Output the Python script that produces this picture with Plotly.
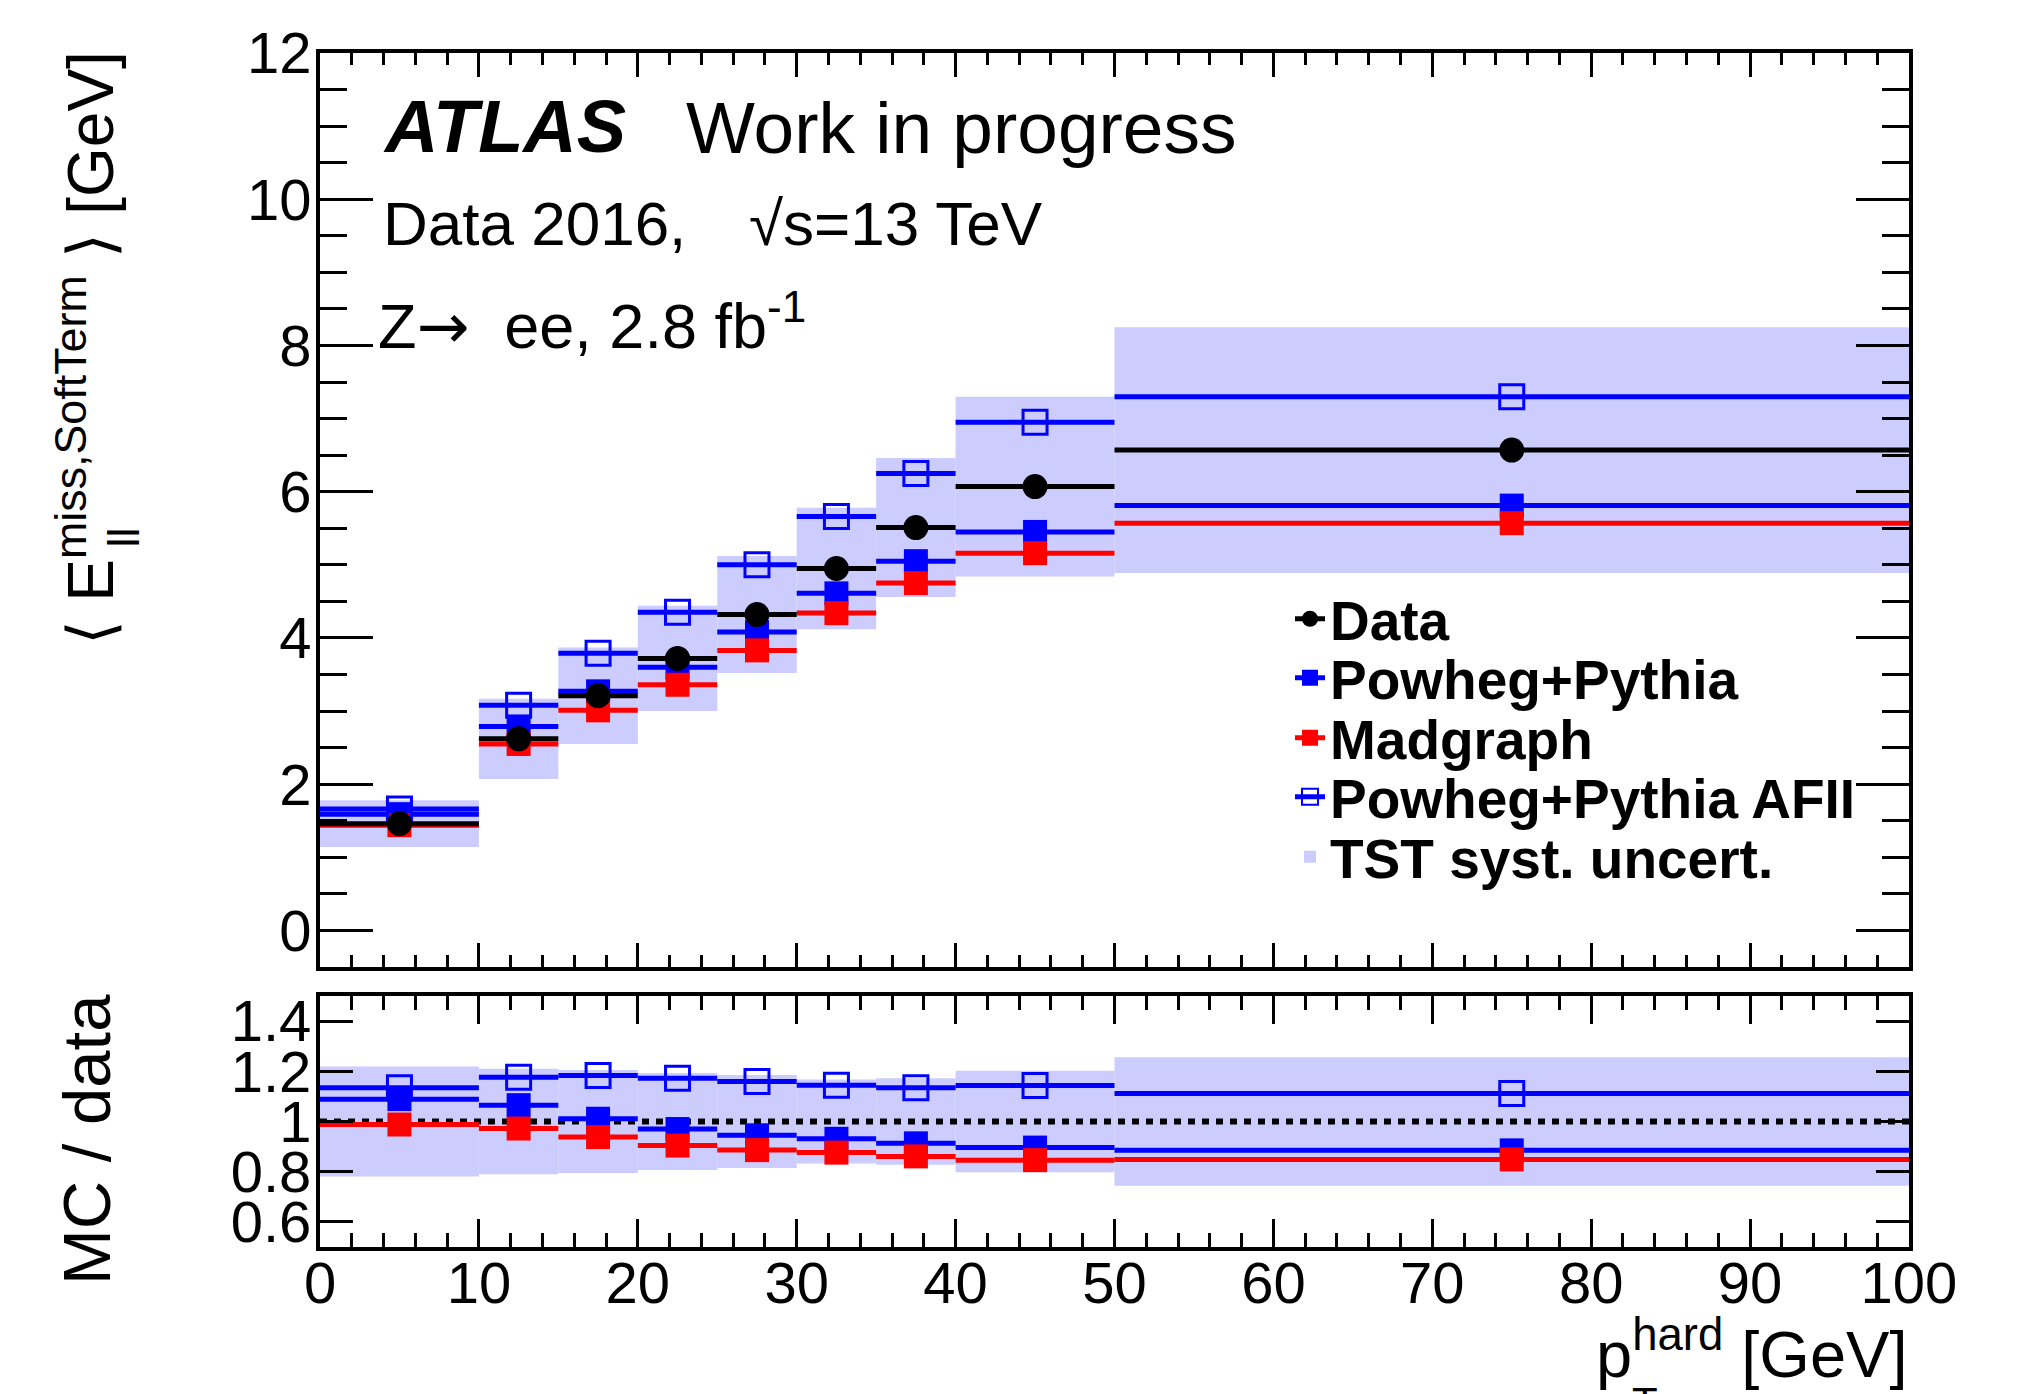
import plotly.graph_objects as go

# ---------------- data ----------------
bin_edges = [0, 10, 15, 20, 25, 30, 35, 40, 50, 100]
data_vals = [1.46, 2.62, 3.21, 3.72, 4.32, 4.95, 5.51, 6.07, 6.57]
tst_syst = [0.32, 0.55, 0.66, 0.72, 0.80, 0.83, 0.95, 1.23, 1.68]
powheg_vals = [1.59, 2.79, 3.27, 3.60, 4.08, 4.61, 5.05, 5.45, 5.81]
madgraph_vals = [1.44, 2.55, 3.01, 3.36, 3.83, 4.34, 4.75, 5.16, 5.57]
afii_vals = [1.66, 3.08, 3.79, 4.35, 5.00, 5.66, 6.25, 6.95, 7.30]

powheg_ratio = [1.089, 1.065, 1.011, 0.970, 0.945, 0.931, 0.913, 0.896, 0.885]
madgraph_ratio = [0.988, 0.972, 0.938, 0.904, 0.886, 0.876, 0.861, 0.846, 0.849]
afii_ratio = [1.134, 1.176, 1.183, 1.172, 1.159, 1.144, 1.134, 1.143, 1.112]

x_tickvals = [0, 10, 20, 30, 40, 50, 60, 70, 80, 90, 100]
y_tickvals_top = [0, 2, 4, 6, 8, 10, 12]
y_tickvals_ratio = [0.6, 0.8, 1.0, 1.2, 1.4]
y_ticktext_ratio = ["0.6", "0.8", "1", "1.2", "1.4"]
ratio_reference = 1.0

# ---------------- derived quantities ----------------
centers = [(a + b) / 2 for a, b in zip(bin_edges[:-1], bin_edges[1:])]
half_w = [(b - a) / 2 for a, b in zip(bin_edges[:-1], bin_edges[1:])]
widths = [b - a for a, b in zip(bin_edges[:-1], bin_edges[1:])]
band_base = [d - s for d, s in zip(data_vals, tst_syst)]
band_height = [2 * s for s in tst_syst]
rel = [s / d for d, s in zip(data_vals, tst_syst)]
rband_base = [ratio_reference - r for r in rel]
rband_height = [2 * r for r in rel]

FONT = "Liberation Sans, Arial, Helvetica, sans-serif"
BAND = "#CCCCFF"
BLUE = "#0000FF"
RED = "#FF0000"

W, H = 2023, 1394
L, R, T, B = 320, 114, 53, 147
PW = W - L - R
PH = H - T - B


def fx(px):
    return (px - L) / PW


def fy(py):
    return (H - B - py) / PH


fig = go.Figure()

# ---------------- top panel ----------------
fig.add_trace(go.Bar(x=centers, y=band_height, base=band_base, width=widths,
                     marker=dict(color=BAND, line=dict(width=0)),
                     name="<b>TST syst. uncert.</b>", legend="legend5",
                     showlegend=True, xaxis="x", yaxis="y"))


def series(x, y, color, symbol, size, lw=0, axis=("x", "y")):
    return go.Scatter(x=x, y=y, mode="markers",
                      marker=dict(symbol=symbol, size=size, color=color,
                                  line=dict(width=lw, color=color)),
                      error_x=dict(type="data", symmetric=True, array=half_w,
                                   thickness=5, width=0, color=color),
                      showlegend=False, xaxis=axis[0], yaxis=axis[1])


fig.add_trace(series(centers, powheg_vals, BLUE, "square", 24))
fig.add_trace(series(centers, madgraph_vals, RED, "square", 24))
fig.add_trace(series(centers, afii_vals, BLUE, "square-open", 24, 3))
fig.add_trace(series(centers, data_vals, "black", "circle", 25))

# legend entries
legend_entries = [
    ("<b>Data</b>", "black", "circle", 0, "legend"),
    ("<b>Powheg+Pythia</b>", BLUE, "square", 0, "legend2"),
    ("<b>Madgraph</b>", RED, "square", 0, "legend3"),
    ("<b>Powheg+Pythia AFII</b>", BLUE, "square-open", 2, "legend4"),
]
for name, col, sym, lw, lg in legend_entries:
    fig.add_trace(go.Scatter(x=[None], y=[None], mode="lines+markers", name=name,
                             line=dict(color=col, width=5),
                             marker=dict(symbol=sym, size=16, color=col,
                                         line=dict(width=lw, color=col)),
                             legend=lg, showlegend=True, xaxis="x", yaxis="y"))

# ---------------- ratio panel ----------------
fig.add_trace(go.Bar(x=centers, y=rband_height, base=rband_base, width=widths,
                     marker=dict(color=BAND, line=dict(width=0)),
                     showlegend=False, xaxis="x2", yaxis="y2"))
fig.add_trace(go.Scatter(x=[bin_edges[0], bin_edges[-1]],
                         y=[ratio_reference, ratio_reference], mode="lines",
                         line=dict(color="black", width=6, dash="7px,7px"),
                         showlegend=False, xaxis="x2", yaxis="y2"))
fig.add_trace(series(centers, powheg_ratio, BLUE, "square", 24, axis=("x2", "y2")))
fig.add_trace(series(centers, madgraph_ratio, RED, "square", 24, axis=("x2", "y2")))
fig.add_trace(series(centers, afii_ratio, BLUE, "square-open", 24, 3, axis=("x2", "y2")))

# ---------------- axes ----------------
common = dict(showgrid=False, zeroline=False, showline=True, linecolor="black",
              linewidth=4, ticks="inside", tickcolor="black", tickwidth=3,
              mirror="allticks", tickfont=dict(family=FONT, size=58, color="black"))

split = fy(967)
rtop = fy(996)

fig.update_layout(
    width=W, height=H,
    margin=dict(l=L, r=R, t=T, b=B, pad=0),
    plot_bgcolor="white", paper_bgcolor="white",
    barmode="overlay",
    font=dict(family=FONT, color="black"),
    xaxis=dict(domain=[0, 1], anchor="y", range=[0, 100], tickvals=x_tickvals,
               showticklabels=False, ticklen=24, matches="x2",
               minor=dict(dtick=2, tick0=0, ticklen=12, tickwidth=3, ticks="inside",
                          tickcolor="black"),
               **common),
    yaxis=dict(domain=[split, 1], anchor="x", range=[-0.5, 12], tickvals=y_tickvals_top,
               ticklen=53, ticklabelstandoff=-7,
               minor=dict(dtick=0.5, tick0=0, ticklen=27, tickwidth=3, ticks="inside",
                          tickcolor="black"),
               **common),
    xaxis2=dict(domain=[0, 1], anchor="y2", range=[0, 100], tickvals=x_tickvals,
                ticklen=28, ticklabelstandoff=-18,
                minor=dict(dtick=2, tick0=0, ticklen=14, tickwidth=3, ticks="inside",
                           tickcolor="black"),
                **common),
    yaxis2=dict(domain=[0, rtop], anchor="x2", range=[0.5, 1.5],
                tickvals=y_tickvals_ratio, ticktext=y_ticktext_ratio, ticklen=33,
                ticklabelstandoff=-7,
                **common),
)

# legends (one per entry for exact ROOT-like spacing)
rows = [619, 678, 738, 797, 857]
names = ["legend", "legend2", "legend3", "legend4", "legend5"]
for nm, ry in zip(names, rows):
    fig.update_layout({nm: dict(x=fx(1290), y=fy(ry), xanchor="left", yanchor="middle",
                                bgcolor="rgba(0,0,0,0)", borderwidth=0,
                                font=dict(family=FONT, size=55, color="black"),
                                itemsizing="trace")})

# ---------------- texts ----------------
def ann(text, x, y, size, xanchor="left", yanchor="bottom", angle=0):
    fig.add_annotation(text=text, x=x, y=y, xref="paper", yref="paper",
                       xanchor=xanchor, yanchor=yanchor, showarrow=False,
                       textangle=angle,
                       font=dict(family=FONT, size=size, color="black"))


ann("<b><i>ATLAS</i></b>", fx(381), fy(170), 74)
ann("Work in progress", fx(684), fy(170), 73)
ann("Data 2016,", fx(381), fy(260), 62)
ann("√s=13 TeV", fx(747), fy(260), 62)
ann("Z<span style='font-family:DejaVu Sans'>→</span>  ee, 2.8 fb<sup>-1</sup>",
    fx(376), fy(365), 63)

# axis titles
ann("p<sup>hard</sup> [GeV]", 1.0, fy(1393), 65, xanchor="right")
ann("T", fx(1645), fy(1377), 42, xanchor="center", yanchor="top")
ann("⟨ E<sup>miss,SoftTerm</sup> ⟩ [GeV]", fx(130), fy(49), 64,
    xanchor="right", yanchor="top", angle=-90)
ann("ll", fx(150), fy(550), 45, xanchor="right", yanchor="bottom", angle=-90)
ann("MC / data", fx(126), fy(992), 67, xanchor="right", yanchor="top", angle=-90)

fig.write_html("out.html", config={"displayModeBar": False})
